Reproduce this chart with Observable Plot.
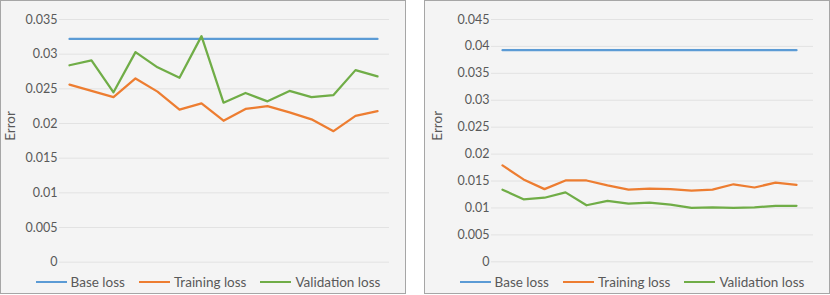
<!DOCTYPE html>
<html>
<head>
<meta charset="utf-8">
<script src="https://cdn.jsdelivr.net/npm/d3@7"></script>
<script src="https://cdn.jsdelivr.net/npm/@observablehq/plot@0.6"></script>
<style>
  body { margin: 0; background: #ffffff; font-family: Lato, "Open Sans", sans-serif; }
  .panel { position: absolute; top: 0; width: 404px; height: 292px; border: 1px solid #a6a6a6; background: #f4f4f4; overflow: hidden; }
  .panel svg { position: absolute; left: 0; top: 0; }
  .legend { position: absolute; left: 0; right: 0; top: 273px; height: 16px; display: flex; justify-content: center; align-items: center; gap: 14px; padding-left: 10px; font-size: 13.5px; color: #595959; }
  .item { display: flex; align-items: center; gap: 4px; white-space: nowrap; }
  .sw { width: 31px; height: 2px; display: inline-block; }
</style>
</head>
<body>
<div id="left" class="panel" style="left:0px"></div>
<div id="right" class="panel" style="left:424px"></div>
<script>
// ---- data ----
const epochs = [1, 2, 3, 4, 5, 6, 7, 8, 9, 10, 11, 12, 13, 14, 15];
const seriesNames = ["Base loss", "Training loss", "Validation loss"];
const seriesColors = ["#5b9bd5", "#ed7d31", "#70ad47"];

const leftBase = [0.0322, 0.0322, 0.0322, 0.0322, 0.0322, 0.0322, 0.0322, 0.0322, 0.0322, 0.0322, 0.0322, 0.0322, 0.0322, 0.0322, 0.0322];
const leftTrain = [0.0256, 0.0247, 0.0238, 0.0265, 0.0246, 0.0220, 0.0229, 0.0204, 0.0221, 0.0225, 0.0216, 0.0206, 0.0189, 0.0211, 0.0218];
const leftVal = [0.0284, 0.0291, 0.0245, 0.0303, 0.0281, 0.0266, 0.0326, 0.0230, 0.0244, 0.0232, 0.0247, 0.0238, 0.0241, 0.0277, 0.0268];

const rightBase = [0.0393, 0.0393, 0.0393, 0.0393, 0.0393, 0.0393, 0.0393, 0.0393, 0.0393, 0.0393, 0.0393, 0.0393, 0.0393, 0.0393, 0.0393];
const rightTrain = [0.0179, 0.0153, 0.0135, 0.0151, 0.0151, 0.0142, 0.0134, 0.0136, 0.0135, 0.0132, 0.0134, 0.0144, 0.0138, 0.0147, 0.0143];
const rightVal = [0.0134, 0.0116, 0.0119, 0.0129, 0.0105, 0.0113, 0.0108, 0.0110, 0.0106, 0.0100, 0.0101, 0.0100, 0.0101, 0.0104, 0.0104];

const leftTicks = [0, 0.005, 0.01, 0.015, 0.02, 0.025, 0.03, 0.035];
const leftTickLabels = ["0", "0.005", "0.01", "0.015", "0.02", "0.025", "0.03", "0.035"];
const rightTicks = [0, 0.005, 0.01, 0.015, 0.02, 0.025, 0.03, 0.035, 0.04, 0.045];
const rightTickLabels = ["0", "0.005", "0.01", "0.015", "0.02", "0.025", "0.03", "0.035", "0.04", "0.045"];
const yLabel = "Error";

// ---- drawing ----
function rows(values) { return epochs.map((e, i) => ({epoch: e, value: values[i]})); }

function chart(cfg) {
  const fmt = d => cfg.labels[cfg.ticks.indexOf(d)];
  return Plot.plot({
    width: 404,
    height: 270,
    marginLeft: cfg.marginLeft,
    marginRight: 16,
    marginTop: 18,
    marginBottom: cfg.marginBottom,
    style: {background: "transparent", fontFamily: "Lato, 'Open Sans', sans-serif", fontSize: "12.5px", color: "#595959"},
    x: {type: "point", domain: epochs, padding: cfg.padding, align: cfg.align, axis: null},
    y: {domain: cfg.domain, axis: null},
    marks: [
      Plot.gridY(cfg.ticks, {stroke: "#e2e2e2", strokeOpacity: 1, strokeWidth: 1}),
      Plot.axisY(cfg.ticks, {tickSize: 0, tickPadding: 2, tickFormat: fmt, label: null, fill: "#595959", fontSize: 12.5}),
      Plot.text([yLabel], {frameAnchor: "left", rotate: -90, dx: cfg.labelDx, fontSize: 13.5, fill: "#595959"}),
      Plot.line(rows(cfg.base), {x: "epoch", y: "value", stroke: seriesColors[0], strokeWidth: 2.25}),
      Plot.line(rows(cfg.train), {x: "epoch", y: "value", stroke: seriesColors[1], strokeWidth: 2.25}),
      Plot.line(rows(cfg.val), {x: "epoch", y: "value", stroke: seriesColors[2], strokeWidth: 2.25})
    ]
  });
}

function legend() {
  const div = document.createElement("div");
  div.className = "legend";
  seriesNames.forEach((name, i) => {
    const item = document.createElement("span");
    item.className = "item";
    const sw = document.createElement("span");
    sw.className = "sw";
    sw.style.background = seriesColors[i];
    const t = document.createElement("span");
    t.textContent = name;
    item.appendChild(sw);
    item.appendChild(t);
    div.appendChild(item);
  });
  return div;
}

const L = document.getElementById("left");
L.appendChild(chart({
  marginLeft: 58, marginBottom: 9.3, padding: 0.43, align: 0.47,
  domain: [0, 0.035], ticks: leftTicks, labels: leftTickLabels,
  base: leftBase, train: leftTrain, val: leftVal, labelDx: -48.5
}));
L.appendChild(legend());

const R = document.getElementById("right");
R.appendChild(chart({
  marginLeft: 66, marginBottom: 9.7, padding: 0.41, align: 0.41,
  domain: [0, 0.045], ticks: rightTicks, labels: rightTickLabels,
  base: rightBase, train: rightTrain, val: rightVal, labelDx: -54.3
}));
R.appendChild(legend());
</script>
</body>
</html>
